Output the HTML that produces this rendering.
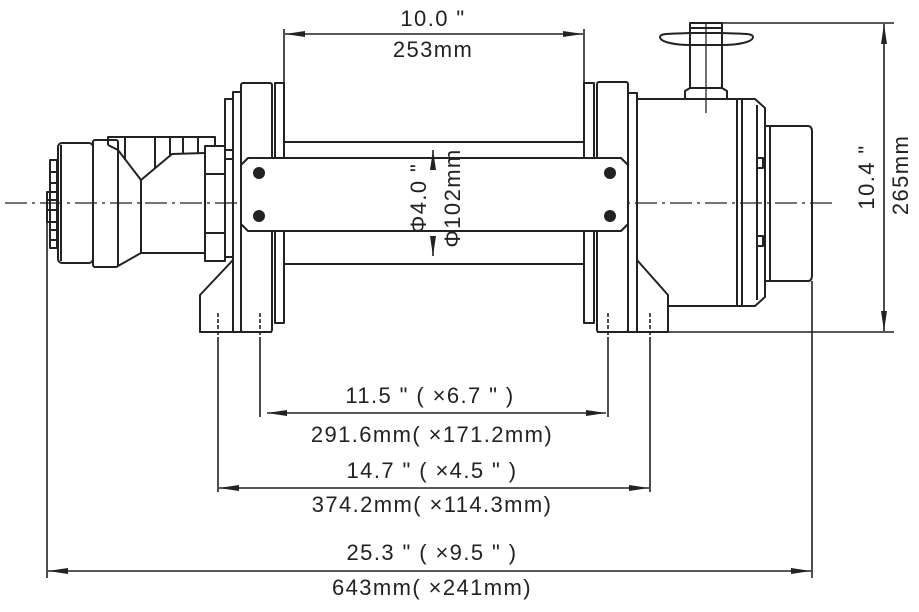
<!DOCTYPE html>
<html><head><meta charset="utf-8"><style>
html,body{margin:0;padding:0;background:#fff;}
svg{display:block}
text{font-family:"Liberation Sans",sans-serif;fill:#222;font-size:22px;letter-spacing:1.4px}
</style></head><body>
<svg width="919" height="612" viewBox="0 0 919 612" xmlns="http://www.w3.org/2000/svg">
<defs>
<marker id="a" viewBox="0 0 20 6" refX="20" refY="3" markerWidth="20" markerHeight="6" markerUnits="userSpaceOnUse" orient="auto-start-reverse"><path d="M0,0 L20,3 L0,6 Z" fill="#222"/></marker>
</defs>
<g fill="none" stroke="#222" stroke-width="2" stroke-linejoin="round">
<line x1="5" y1="203" x2="836" y2="203" stroke-width="1.3" stroke-dasharray="22,5,3,5"/>
<rect x="50" y="160" width="7" height="88"/>
<rect x="47" y="192" width="10" height="30"/>
<line x1="50" y1="172" x2="57" y2="172"/><line x1="50" y1="183" x2="57" y2="183"/><line x1="47" y1="200" x2="57" y2="200"/><line x1="47" y1="210" x2="57" y2="210"/><line x1="50" y1="230" x2="57" y2="230"/><line x1="50" y1="240" x2="57" y2="240"/>
<rect x="58" y="143" width="35" height="120" rx="4"/>
<line x1="61" y1="145" x2="61" y2="261"/>
<rect x="93" y="140" width="25" height="127" rx="2"/>
<path d="M118,150 L141,180 L141,253 L118,266"/>
<path d="M108,145 L108,137 L215,137 L215,146"/>
<path d="M118,150 L108,145 M141,180 L172,154 L205,153"/>
<line x1="141" y1="253" x2="205" y2="253"/>
<line x1="125" y1="137" x2="125" y2="160"/><line x1="155" y1="137" x2="155" y2="168"/><line x1="170" y1="137" x2="170" y2="155"/><line x1="183" y1="137" x2="183" y2="153"/><line x1="198" y1="137" x2="198" y2="153"/>
<rect x="205" y="146" width="20" height="115"/>
<line x1="205" y1="174" x2="225" y2="174"/><line x1="205" y1="233" x2="225" y2="233"/>
<line x1="225" y1="150" x2="233" y2="150"/><line x1="225" y1="257" x2="233" y2="257"/>
<path d="M233,260 L200,295 L200,332 L272,332"/>
<rect x="225" y="99" width="8" height="60"/>
<rect x="233" y="92" width="8" height="240"/>
<rect x="241" y="83" width="31" height="249" rx="2"/>
<rect x="275" y="83" width="9" height="240"/>
<rect x="284" y="142" width="300" height="122"/>
<rect x="584" y="83" width="10" height="240"/>
<rect x="597" y="82" width="31" height="250" rx="2"/>
<rect x="628" y="93" width="9" height="239"/>
<path d="M597,332 L668,332 L668,295 L637,260"/>
<path d="M248,158 L621,158 L628,165 L628,224 L621,231 L248,231 L241,224 L241,165 Z" fill="#fff"/>
<path d="M637,99 L737,99 L737,306 L668,306"/>
<path d="M737,99 L755,99 L765,108 L765,297 L755,306 L737,306"/>
<line x1="742" y1="99" x2="742" y2="306"/>
<line x1="757" y1="105" x2="757" y2="300"/>
<path d="M765,126 L808,126 Q812,126 812,132 L812,275 Q812,281 808,281 L765,281"/>
<line x1="770" y1="126" x2="770" y2="281"/>
<rect x="757" y="158" width="6" height="10"/><rect x="757" y="236" width="6" height="10"/>
<path d="M685,99 L685,91 L690,88 L722,88 L727,91 L727,99"/>
<rect x="690" y="45" width="32" height="43"/>
<path d="M690,45 C675,45 660,42 660,37 C660,33 670,34 690,33 M722,45 C738,45 753,42 753,37 C753,33 743,34 722,33"/>
<rect x="690" y="23" width="32" height="22"/>
<line x1="690" y1="28" x2="722" y2="28"/><line x1="690" y1="33" x2="722" y2="33"/>
<line x1="706" y1="23" x2="706" y2="113" stroke-width="1.3"/>
</g>
<g fill="#222">
<circle cx="259" cy="173" r="6"/><circle cx="259" cy="216" r="6"/>
<circle cx="610" cy="173" r="6"/><circle cx="610" cy="216" r="6"/>
</g>
<g stroke="#222" stroke-width="1.6" fill="none">
<line x1="218" y1="313" x2="218" y2="340" stroke-dasharray="4,2"/>
<line x1="260" y1="313" x2="260" y2="340" stroke-dasharray="4,2"/>
<line x1="608" y1="313" x2="608" y2="340" stroke-dasharray="4,2"/>
<line x1="650" y1="313" x2="650" y2="340" stroke-dasharray="4,2"/>
<line x1="260" y1="340" x2="260" y2="417"/><line x1="608" y1="340" x2="608" y2="417"/>
<line x1="218" y1="340" x2="218" y2="492"/><line x1="650" y1="340" x2="650" y2="492"/>
<line x1="47" y1="222" x2="47" y2="578"/><line x1="812" y1="281" x2="812" y2="578"/>
<line x1="267" y1="413" x2="606" y2="413" marker-start="url(#a)" marker-end="url(#a)"/>
<line x1="219" y1="488" x2="649" y2="488" marker-start="url(#a)" marker-end="url(#a)"/>
<line x1="48" y1="571" x2="811" y2="571" marker-start="url(#a)" marker-end="url(#a)"/>
<line x1="284" y1="29" x2="284" y2="88"/><line x1="584" y1="29" x2="584" y2="88"/>
<line x1="285" y1="34" x2="583" y2="34" marker-start="url(#a)" marker-end="url(#a)"/>
<line x1="722" y1="23" x2="894" y2="23"/><line x1="668" y1="332" x2="894" y2="332"/>
<line x1="884" y1="24" x2="884" y2="331" marker-start="url(#a)" marker-end="url(#a)"/>
<line x1="433" y1="150" x2="433" y2="163" marker-start="url(#a)"/>
<line x1="433" y1="243" x2="433" y2="256" marker-end="url(#a)"/>
</g>
<g text-anchor="middle">
<text x="433" y="26">10.0 "</text>
<text x="433" y="57">253mm</text>
<text x="430" y="403">11.5 " ( ×6.7 " )</text>
<text x="432" y="442">291.6mm( ×171.2mm)</text>
<text x="432" y="478">14.7 " ( ×4.5 " )</text>
<text x="432" y="512">374.2mm( ×114.3mm)</text>
<text x="432" y="560">25.3 " ( ×9.5 " )</text>
<text x="432" y="595">643mm( ×241mm)</text>
<text transform="translate(426,198) rotate(-90)">Φ4.0 "</text>
<text transform="translate(460,198) rotate(-90)">Φ102mm</text>
<text transform="translate(874,177) rotate(-90)">10.4 "</text>
<text transform="translate(908,175) rotate(-90)">265mm</text>
</g>
</svg>
</body></html>
